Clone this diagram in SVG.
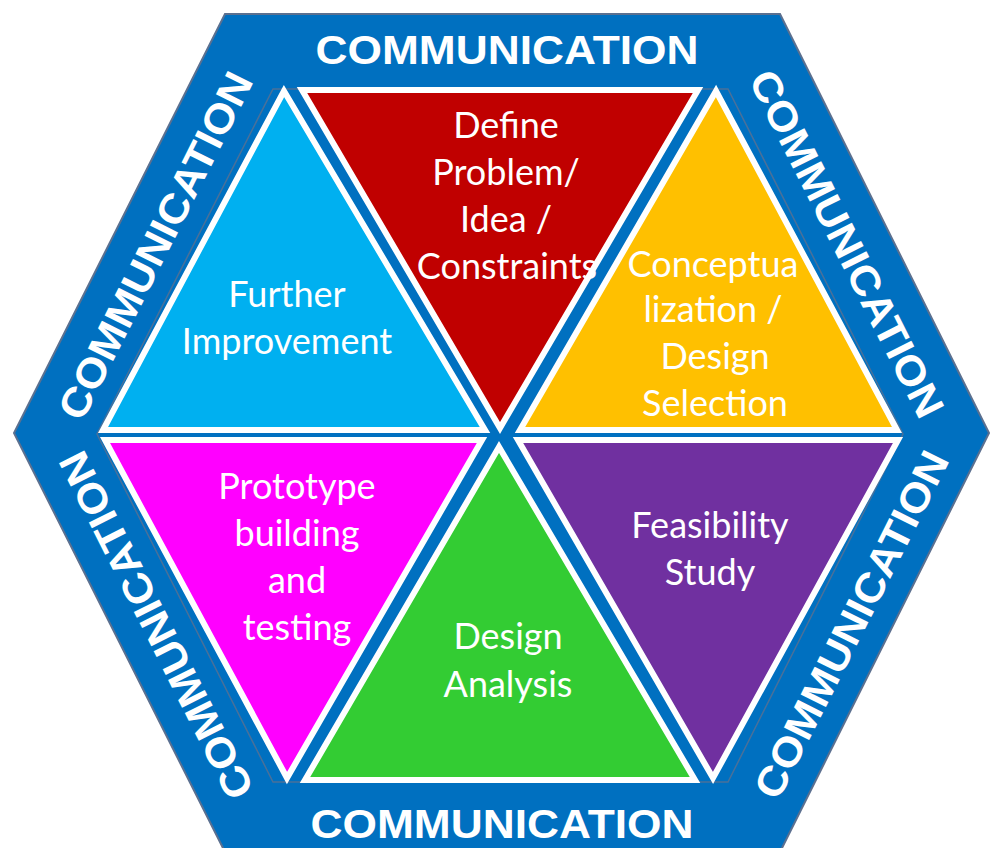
<svg xmlns="http://www.w3.org/2000/svg" width="991" height="848" viewBox="0 0 991 848">
<style>
.tri{stroke:#FFFFFF;stroke-width:6;stroke-linejoin:miter}
.lbl{font-family:Lato,"Open Sans","Liberation Sans",sans-serif;font-size:36px;fill:#FFFFFF;text-anchor:middle}
.com{font-family:"Liberation Sans",Arial,sans-serif;font-weight:bold;font-size:41px;fill:#FFFFFF;text-anchor:middle}
</style>
<rect width="991" height="848" fill="#FFFFFF"/>
<g id="hexagon">
<polygon points="225,14 780,14 989,433 780,852 225,852 14,433" fill="#0070C0" stroke="#5B7090" stroke-width="2"/>
<polygon points="273,89 728,89 903,434 728,782 273,782 97,434" fill="none" stroke="#5B7090" stroke-width="1.5" opacity="0.8"/>
</g>
<g id="communication">
<text class="com" x="507" y="64" textLength="383" lengthAdjust="spacingAndGlyphs">COMMUNICATION</text>
<text class="com" x="502" y="838" textLength="383" lengthAdjust="spacingAndGlyphs">COMMUNICATION</text>
<text class="com" transform="translate(168,252) rotate(-63.3)" textLength="383" lengthAdjust="spacingAndGlyphs">COMMUNICATION</text>
<text class="com" transform="translate(834,250) rotate(63.3)" textLength="383" lengthAdjust="spacingAndGlyphs">COMMUNICATION</text>
<text class="com" transform="translate(864,631) rotate(-63.3)" textLength="383" lengthAdjust="spacingAndGlyphs">COMMUNICATION</text>
<text class="com" transform="translate(169,619) rotate(-116.7)" textLength="383" lengthAdjust="spacingAndGlyphs">COMMUNICATION</text>
</g>
<g id="define">
<polygon class="tri" points="302,90 698,90 500,428" fill="#C00000"/>
<text class="lbl" x="506" y="138">Define</text>
<text class="lbl" x="506" y="185">Problem/</text>
<text class="lbl" x="506" y="232">Idea /</text>
<text class="lbl" x="507" y="279">Constraints</text>
</g>
<g id="improvement">
<polygon class="tri" points="284,91 103,430 485,430" fill="#00B0F0"/>
<text class="lbl" x="287" y="307">Further</text>
<text class="lbl" x="287" y="354">Improvement</text>
</g>
<g id="concept">
<polygon class="tri" points="716,91 520,430 897,430" fill="#FFC000"/>
<text class="lbl" x="713" y="277">Conceptua</text>
<text class="lbl" x="713" y="322">lization /</text>
<text class="lbl" x="715" y="369">Design</text>
<text class="lbl" x="715" y="416">Selection</text>
</g>
<g id="prototype">
<polygon class="tri" points="105,440 482,440 287,778" fill="#FF00FF"/>
<text class="lbl" x="297" y="499">Prototype</text>
<text class="lbl" x="297" y="546">building</text>
<text class="lbl" x="297" y="593">and</text>
<text class="lbl" x="297" y="640">testing</text>
</g>
<g id="analysis">
<polygon class="tri" points="499,447 305,780 695,780" fill="#33CC33"/>
<text class="lbl" x="508" y="649">Design</text>
<text class="lbl" x="508" y="697">Analysis</text>
</g>
<g id="feasibility">
<polygon class="tri" points="518,440 898,440 713,778" fill="#7030A0"/>
<text class="lbl" x="710" y="538">Feasibility</text>
<text class="lbl" x="710" y="585">Study</text>
</g>
<g id="connectors"></g>
</svg>
